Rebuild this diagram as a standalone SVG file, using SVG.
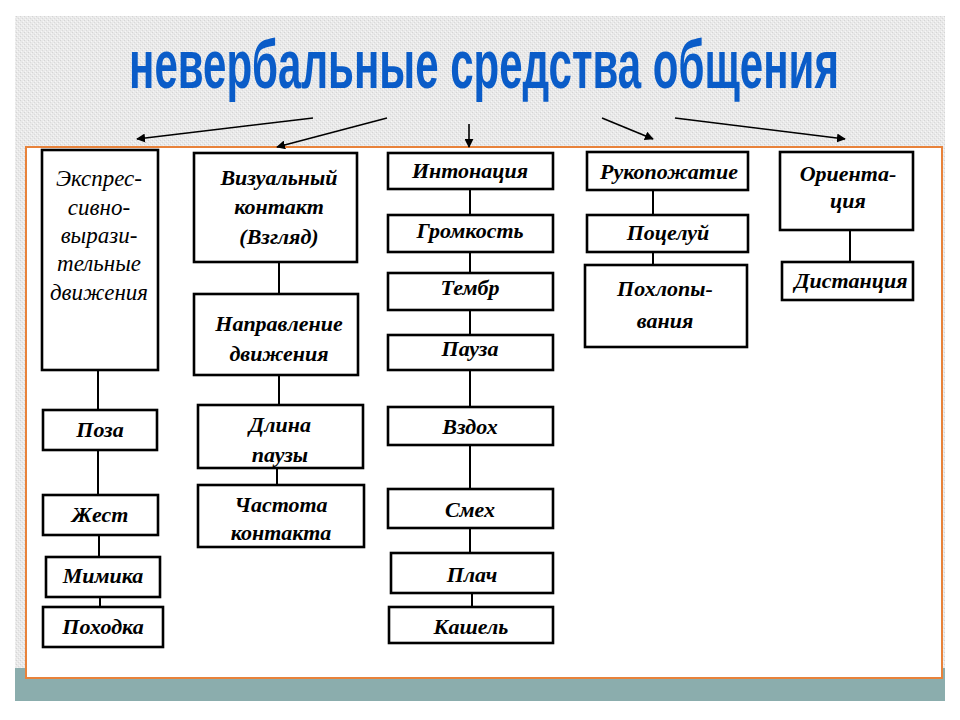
<svg xmlns="http://www.w3.org/2000/svg" width="960" height="720" viewBox="0 0 960 720">
<defs>
<pattern id="tex" width="4" height="4" patternUnits="userSpaceOnUse">
<rect width="4" height="4" fill="#e9e9e9"/>
<rect x="0" y="0" width="1" height="1" fill="#d4d4d4"/>
<rect x="2" y="2" width="1" height="1" fill="#dadada"/>
<rect x="1" y="3" width="1" height="1" fill="#f6f6f6"/>
<rect x="3" y="1" width="1" height="1" fill="#f6f6f6"/>
</pattern>
<marker id="ah" viewBox="0 0 10 10" refX="9" refY="5" markerWidth="9" markerHeight="9" markerUnits="userSpaceOnUse" orient="auto">
<path d="M0,0 L10,5 L0,10 Z" fill="#000"/>
</marker>
</defs>
<style>
.box{fill:#fff;stroke:#000;stroke-width:2.6}
.t{font-family:"Liberation Serif","DejaVu Serif",serif;font-style:italic;font-weight:bold;font-size:22px;fill:#000;text-anchor:middle}
.tn{font-weight:normal;font-size:23px}
.ln{stroke:#000;stroke-width:2;fill:none}
.ar{stroke:#000;stroke-width:1.6;fill:none;marker-end:url(#ah)}
</style>
<rect x="0" y="0" width="960" height="720" fill="#fff"/>
<rect x="15" y="16" width="930" height="662" fill="url(#tex)"/>
<rect x="15" y="668" width="930" height="33" fill="#8badad"/>
<rect x="26" y="147" width="916" height="531" fill="#fff" stroke="#e8823a" stroke-width="2"/>
<text transform="translate(484,88) scale(0.7,1)" x="0" y="0" font-family="Liberation Sans, Arial, sans-serif" font-weight="bold" font-size="68" fill="#0a5cc8" text-anchor="middle" textLength="1014" lengthAdjust="spacingAndGlyphs">невербальные средства общения</text>

<g id="connectors">
<line class="ar" x1="313" y1="118" x2="137" y2="139"/>
<line class="ar" x1="387" y1="118" x2="277" y2="147"/>
<line class="ar" x1="469" y1="124" x2="469" y2="147"/>
<line class="ar" x1="602" y1="118" x2="653" y2="139"/>
<line class="ar" x1="675" y1="118" x2="845" y2="139"/>
<line class="ln" x1="98" y1="370" x2="98" y2="410"/>
<line class="ln" x1="98" y1="450" x2="98" y2="495"/>
<line class="ln" x1="99" y1="535" x2="99" y2="557"/>
<line class="ln" x1="100" y1="597" x2="100" y2="607"/>
<line class="ln" x1="279" y1="262" x2="279" y2="294"/>
<line class="ln" x1="279" y1="375" x2="279" y2="405"/>
<line class="ln" x1="277" y1="468" x2="277" y2="485"/>
<line class="ln" x1="470" y1="189" x2="470" y2="215"/>
<line class="ln" x1="470" y1="252" x2="470" y2="273"/>
<line class="ln" x1="470" y1="310" x2="470" y2="335"/>
<line class="ln" x1="470" y1="370" x2="470" y2="407"/>
<line class="ln" x1="470" y1="445" x2="470" y2="489"/>
<line class="ln" x1="470" y1="528" x2="470" y2="553"/>
<line class="ln" x1="472" y1="593" x2="472" y2="607"/>
<line class="ln" x1="653" y1="190" x2="653" y2="215"/>
<line class="ln" x1="653" y1="252" x2="653" y2="265"/>
<line class="ln" x1="850" y1="230" x2="850" y2="262"/>
</g>

<g id="n-expr"><rect class="box" x="42" y="150" width="116" height="220"/>
<text class="t tn"><tspan x="99" y="186">Экспрес-</tspan><tspan x="99" y="215">сивно-</tspan><tspan x="99" y="243">вырази-</tspan><tspan x="99" y="271">тельные</tspan><tspan x="99" y="300">движения</tspan></text></g>
<g id="n-poza"><rect class="box" x="43" y="410" width="114" height="40"/><text class="t" x="100" y="437">Поза</text></g>
<g id="n-zhest"><rect class="box" x="43" y="495" width="115" height="40"/><text class="t" x="100" y="522">Жест</text></g>
<g id="n-mimika"><rect class="box" x="46" y="557" width="114" height="40"/><text class="t" x="103" y="583">Мимика</text></g>
<g id="n-pohodka"><rect class="box" x="43" y="607" width="120" height="40"/><text class="t" x="103" y="634">Походка</text></g>

<g id="n-vizual"><rect class="box" x="194" y="153" width="163" height="109"/>
<text class="t"><tspan x="279" y="185">Визуальный</tspan><tspan x="279" y="214">контакт</tspan><tspan x="279" y="244">(Взгляд)</tspan></text></g>
<g id="n-napr"><rect class="box" x="194" y="294" width="164" height="81"/>
<text class="t"><tspan x="279" y="331">Направление</tspan><tspan x="279" y="361">движения</tspan></text></g>
<g id="n-dlina"><rect class="box" x="198" y="405" width="165" height="63"/>
<text class="t"><tspan x="280" y="432">Длина</tspan><tspan x="280" y="462">паузы</tspan></text></g>
<g id="n-chastota"><rect class="box" x="198" y="485" width="166" height="62"/>
<text class="t"><tspan x="281" y="512">Частота</tspan><tspan x="281" y="540">контакта</tspan></text></g>

<g id="n-inton"><rect class="box" x="388" y="153" width="165" height="36"/><text class="t" x="470" y="178">Интонация</text></g>
<g id="n-gromk"><rect class="box" x="388" y="215" width="165" height="37"/><text class="t" x="470" y="238">Громкость</text></g>
<g id="n-tembr"><rect class="box" x="388" y="273" width="165" height="37"/><text class="t" x="470" y="295">Тембр</text></g>
<g id="n-pauza"><rect class="box" x="388" y="335" width="165" height="35"/><text class="t" x="470" y="356">Пауза</text></g>
<g id="n-vzdoh"><rect class="box" x="388" y="407" width="165" height="38"/><text class="t" x="470" y="434">Вздох</text></g>
<g id="n-smeh"><rect class="box" x="388" y="489" width="165" height="39"/><text class="t" x="470" y="517">Смех</text></g>
<g id="n-plach"><rect class="box" x="391" y="553" width="162" height="40"/><text class="t" x="472" y="582">Плач</text></g>
<g id="n-kashel"><rect class="box" x="389" y="607" width="164" height="36"/><text class="t" x="471" y="634">Кашель</text></g>

<g id="n-ruko"><rect class="box" x="587" y="152" width="161" height="38"/><text class="t" x="669" y="179">Рукопожатие</text></g>
<g id="n-poceluy"><rect class="box" x="587" y="215" width="161" height="37"/><text class="t" x="668" y="240">Поцелуй</text></g>
<g id="n-pohlop"><rect class="box" x="585" y="265" width="162" height="82"/>
<text class="t"><tspan x="665" y="296">Похлопы-</tspan><tspan x="665" y="328">вания</tspan></text></g>

<g id="n-orient"><rect class="box" x="780" y="152" width="133" height="78"/>
<text class="t"><tspan x="848" y="181">Ориента-</tspan><tspan x="848" y="208">ция</tspan></text></g>
<g id="n-dist"><rect class="box" x="782" y="262" width="131" height="38"/><text class="t" x="851" y="288">Дистанция</text></g>
</svg>
